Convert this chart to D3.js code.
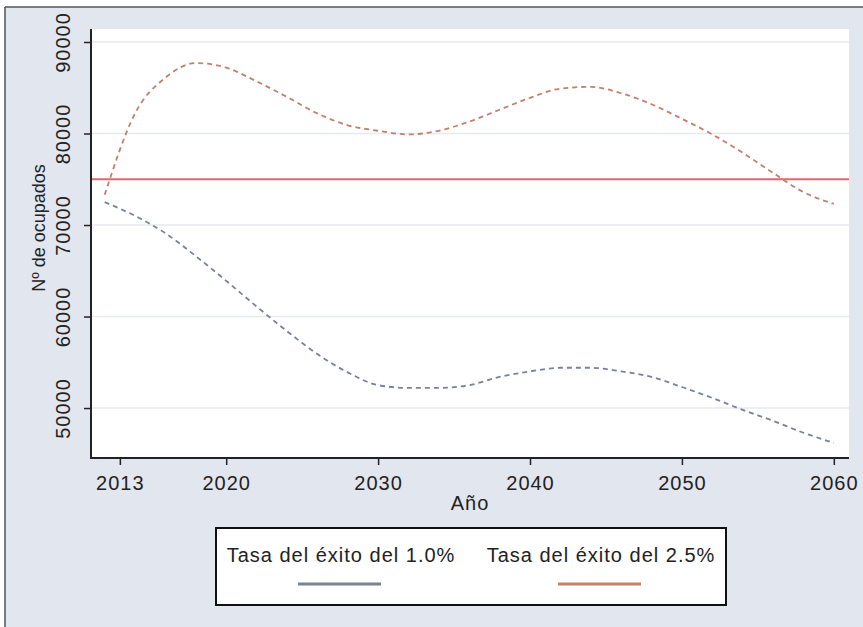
<!DOCTYPE html>
<html>
<head>
<meta charset="utf-8">
<script src="https://cdn.jsdelivr.net/npm/d3@7/dist/d3.min.js"></script>
<style>
  html, body { margin: 0; padding: 0; background: #ffffff; }
  svg { display: block; font-family: "Liberation Sans", Arial, sans-serif; }
  svg text { letter-spacing: 1px; }
  svg text.ytitle { letter-spacing: 0; }
</style>
</head>
<body>
<svg id="chart" width="863" height="627"></svg>
<script>
// Projection years (every two years)
const years = [2012, 2014, 2016, 2018, 2020, 2022, 2024, 2026, 2028, 2030, 2032, 2034, 2036,
               2038, 2040, 2042, 2044, 2046, 2048, 2050, 2052, 2054, 2056, 2058, 2060];

// Success rate 1.0%
const serieBaja = [72500, 71000, 69100, 66600, 63900, 61100, 58400, 55900, 53900, 52500, 52200, 52200, 52500,
                   53400, 54000, 54400, 54400, 54000, 53400, 52300, 51100, 49800, 48600, 47300, 46200];

// Success rate 2.5%
const serieAlta = [73300, 82200, 86100, 87700, 87200, 85700, 84000, 82200, 80900, 80300, 79900, 80300, 81300,
                   82600, 83900, 84900, 85100, 84400, 83200, 81600, 79900, 77900, 75700, 73600, 72300];

// Reference level
const referencia = 75000;

const xTicks = [2013, 2020, 2030, 2040, 2050, 2060];
const yTicks = [50000, 60000, 70000, 80000, 90000];

const leyenda = ["Tasa del éxito del 1.0%", "Tasa del éxito del 2.5%"];
const colores = ["#7a8297", "#c47f6e"];
const colorRef = "#dc6870";

const svg = d3.select("#chart");
const W = 863, H = 627;
const plot = { left: 91, right: 849, top: 29, bottom: 458 };
const FS = 20;

// Outer background and frame
svg.append("rect").attr("x", 5).attr("y", 7).attr("width", W).attr("height", H)
  .attr("fill", "#e2e6ee");
svg.append("line").attr("x1", 5).attr("x2", W).attr("y1", 7).attr("y2", 7)
  .attr("stroke", "#555").attr("stroke-width", 1.5);
svg.append("line").attr("x1", 5).attr("x2", 5).attr("y1", 7).attr("y2", H)
  .attr("stroke", "#555").attr("stroke-width", 1.5);

// Plot region
svg.append("rect")
  .attr("x", plot.left).attr("y", plot.top)
  .attr("width", plot.right - plot.left).attr("height", plot.bottom - plot.top)
  .attr("fill", "#ffffff");

const x = d3.scaleLinear().domain([2011.1, 2061]).range([plot.left, plot.right]);
const y = d3.scaleLinear().domain([44540, 91420]).range([plot.bottom, plot.top]);

// Grid lines
svg.append("g").selectAll("line").data(yTicks).join("line")
  .attr("x1", plot.left).attr("x2", plot.right)
  .attr("y1", d => y(d)).attr("y2", d => y(d))
  .attr("stroke", "#e6e9f0").attr("stroke-width", 1.5);

// Reference line
svg.append("line")
  .attr("x1", plot.left).attr("x2", plot.right)
  .attr("y1", y(referencia)).attr("y2", y(referencia))
  .attr("stroke", colorRef).attr("stroke-width", 2.2);

// Series
const line = d3.line().x((d, i) => x(years[i])).y(d => y(d)).curve(d3.curveMonotoneX);
[serieBaja, serieAlta].forEach((s, k) => {
  svg.append("path")
    .attr("d", line(s))
    .attr("fill", "none")
    .attr("stroke", colores[k])
    .attr("stroke-width", 1.8)
    .attr("stroke-dasharray", "5,4");
});

// Axes
const yAxis = svg.append("g")
  .attr("transform", `translate(${plot.left},0)`)
  .call(d3.axisLeft(y).tickValues(yTicks).tickSize(7).tickSizeOuter(0).tickFormat(d3.format("d")));
yAxis.select(".domain").remove();
yAxis.selectAll(".tick line").attr("stroke", "#222").attr("stroke-width", 1.5);
yAxis.selectAll(".tick text")
  .attr("font-size", FS).attr("fill", "#222")
  .attr("transform", "rotate(-90)")
  .attr("x", 0).attr("y", -21).attr("dy", 0)
  .attr("text-anchor", "middle");
svg.append("line").attr("x1", plot.left).attr("x2", plot.left)
  .attr("y1", plot.top).attr("y2", plot.bottom + 1)
  .attr("stroke", "#222").attr("stroke-width", 2);

const xAxis = svg.append("g")
  .attr("transform", `translate(0,${plot.bottom})`)
  .call(d3.axisBottom(x).tickValues(xTicks).tickSize(7).tickSizeOuter(0).tickFormat(d3.format("d")));
xAxis.select(".domain").remove();
xAxis.selectAll(".tick line").attr("stroke", "#222").attr("stroke-width", 1.5);
xAxis.selectAll(".tick text")
  .attr("font-size", FS).attr("fill", "#222").attr("y", 32).attr("dy", 0);
svg.append("line").attr("x1", plot.left - 1).attr("x2", plot.right)
  .attr("y1", plot.bottom).attr("y2", plot.bottom)
  .attr("stroke", "#222").attr("stroke-width", 2);

// Axis titles
svg.append("text")
  .attr("x", (plot.left + plot.right) / 2).attr("y", 510)
  .attr("text-anchor", "middle").attr("font-size", FS).attr("fill", "#222")
  .text("Año");
svg.append("text")
  .attr("class", "ytitle")
  .attr("transform", `translate(45,228) rotate(-90)`)
  .attr("text-anchor", "middle").attr("font-size", 18).attr("fill", "#222")
  .text("Nº de ocupados");

// Legend
const lg = svg.append("g");
lg.append("rect").attr("x", 216).attr("y", 528).attr("width", 510).attr("height", 77)
  .attr("fill", "#ffffff").attr("stroke", "#111").attr("stroke-width", 2);
const legX = [341, 601];
leyenda.forEach((t, k) => {
  lg.append("text").attr("x", legX[k]).attr("y", 562)
    .attr("text-anchor", "middle").attr("font-size", FS).attr("fill", "#222").text(t);
  lg.append("line")
    .attr("x1", legX[k] - 43).attr("x2", legX[k] + 40)
    .attr("y1", 584).attr("y2", 584)
    .attr("stroke", colores[k]).attr("stroke-width", 3);
});
</script>
</body>
</html>
